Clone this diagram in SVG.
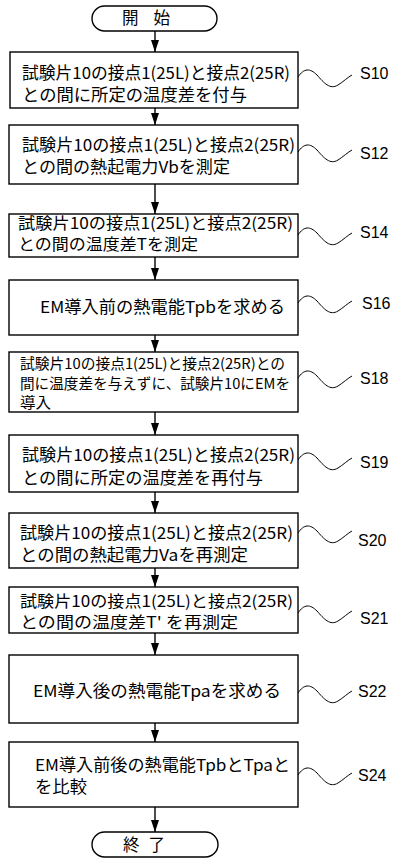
<svg xmlns="http://www.w3.org/2000/svg" width="395" height="858" viewBox="0 0 395 858">
<style>
.box{fill:#fff;stroke:#000;stroke-width:1.4}
.t{font-family:"Noto Sans CJK JP","Noto Sans",sans-serif;font-size:16.5px;fill:#000}
.t15{font-family:"Noto Sans CJK JP","Noto Sans",sans-serif;font-size:15.5px;fill:#000}
.t14{font-family:"Noto Sans CJK JP","Noto Sans",sans-serif;font-size:14.5px;fill:#000}
.lbl{font-family:"Liberation Sans",Arial,sans-serif;font-size:16px;fill:#000}
.sq{fill:none;stroke:#000;stroke-width:1}
.ar{stroke:#000;stroke-width:1.4;fill:none;marker-end:url(#ah)}
</style>
<defs>
<marker id="ah" markerWidth="12" markerHeight="8" refX="12" refY="4" orient="auto" markerUnits="userSpaceOnUse" viewBox="0 0 12 8">
<path d="M0,0 L12,4 L0,8 Z" fill="#000"/>
</marker>
<path id="wave" d="M0,0 C6,-9 12,-9 19,-2 C26,6 32,13 40,8 C45,5 50,0 54,-2"/>
</defs>
<rect width="395" height="858" fill="#fff"/>

<g id="connectors">
<line class="ar" x1="155" y1="31" x2="155" y2="52"/>
<line class="ar" x1="155" y1="108" x2="155" y2="125"/>
<line class="ar" x1="155" y1="184" x2="155" y2="214"/>
<line class="ar" x1="155" y1="257" x2="155" y2="280"/>
<line class="ar" x1="155" y1="335" x2="155" y2="352"/>
<line class="ar" x1="155" y1="412" x2="155" y2="435"/>
<line class="ar" x1="155" y1="492" x2="155" y2="513"/>
<line class="ar" x1="155" y1="568" x2="155" y2="587"/>
<line class="ar" x1="155" y1="633" x2="155" y2="655"/>
<line class="ar" x1="155" y1="723" x2="155" y2="742"/>
<line class="ar" x1="155" y1="807" x2="155" y2="832"/>
</g>

<g id="start">
<rect class="box" x="92" y="6" width="125" height="25" rx="12.5"/>
<text class="t" x="122" y="24" textLength="48" lengthAdjust="spacing">開 始</text>
</g>

<g id="S10">
<rect class="box" x="10" y="52" width="288" height="56"/>
<text class="t" x="22" y="79" textLength="268" lengthAdjust="spacingAndGlyphs">試験片10の接点1(25L)と接点2(25R)</text>
<text class="t" x="22" y="101" textLength="225" lengthAdjust="spacingAndGlyphs">との間に所定の温度差を付与</text>
<use href="#wave" class="sq" x="298" y="77"/>
<text class="lbl" x="360" y="79">S10</text>
</g>

<g id="S12">
<rect class="box" x="9" y="125" width="289" height="59"/>
<text class="t" x="22" y="151" textLength="273" lengthAdjust="spacingAndGlyphs">試験片10の接点1(25L)と接点2(25R)</text>
<text class="t" x="22" y="173" textLength="208" lengthAdjust="spacingAndGlyphs">との間の熱起電力Vbを測定</text>
<use href="#wave" class="sq" x="298" y="152"/>
<text class="lbl" x="360" y="159">S12</text>
</g>

<g id="S14">
<rect class="box" x="9" y="214" width="289" height="43"/>
<text class="t15" x="18" y="229" textLength="275" lengthAdjust="spacingAndGlyphs">試験片10の接点1(25L)と接点2(25R)</text>
<text class="t15" x="18" y="250" textLength="180" lengthAdjust="spacingAndGlyphs">との間の温度差Tを測定</text>
<use href="#wave" class="sq" x="298" y="235"/>
<text class="lbl" x="360" y="238">S14</text>
</g>

<g id="S16">
<rect class="box" x="9" y="280" width="289" height="55"/>
<text class="t" x="40" y="313" textLength="245" lengthAdjust="spacingAndGlyphs">EM導入前の熱電能Tpbを求める</text>
<use href="#wave" class="sq" x="298" y="303"/>
<text class="lbl" x="362" y="309">S16</text>
</g>

<g id="S18">
<rect class="box" x="9" y="352" width="289" height="60"/>
<text class="t14" x="20" y="369" textLength="265" lengthAdjust="spacingAndGlyphs">試験片10の接点1(25L)と接点2(25R)との</text>
<text class="t14" x="20" y="388.5" textLength="270" lengthAdjust="spacingAndGlyphs">間に温度差を与えずに、試験片10にEMを</text>
<text class="t14" x="20" y="408" textLength="31" lengthAdjust="spacingAndGlyphs">導入</text>
<use href="#wave" class="sq" x="298" y="378"/>
<text class="lbl" x="360" y="384">S18</text>
</g>

<g id="S19">
<rect class="box" x="9" y="435" width="289" height="57"/>
<text class="t" x="22" y="461" textLength="273" lengthAdjust="spacingAndGlyphs">試験片10の接点1(25L)と接点2(25R)</text>
<text class="t" x="22" y="484" textLength="241" lengthAdjust="spacingAndGlyphs">との間に所定の温度差を再付与</text>
<use href="#wave" class="sq" x="298" y="460"/>
<text class="lbl" x="360" y="468">S19</text>
</g>

<g id="S20">
<rect class="box" x="9" y="513" width="289" height="55"/>
<text class="t" x="20" y="539" textLength="273" lengthAdjust="spacingAndGlyphs">試験片10の接点1(25L)と接点2(25R)</text>
<text class="t" x="20" y="561" textLength="228" lengthAdjust="spacingAndGlyphs">との間の熱起電力Vaを再測定</text>
<use href="#wave" class="sq" x="298" y="533"/>
<text class="lbl" x="358" y="546">S20</text>
</g>

<g id="S21">
<rect class="box" x="9" y="587" width="289" height="46"/>
<text class="t15" x="20" y="607" textLength="273" lengthAdjust="spacingAndGlyphs">試験片10の接点1(25L)と接点2(25R)</text>
<text class="t15" x="20" y="628" textLength="218" lengthAdjust="spacingAndGlyphs">との間の温度差T' を再測定</text>
<use href="#wave" class="sq" x="298" y="613"/>
<text class="lbl" x="360" y="624">S21</text>
</g>

<g id="S22">
<rect class="box" x="9" y="655" width="289" height="68"/>
<text class="t" x="33" y="697" textLength="248" lengthAdjust="spacingAndGlyphs">EM導入後の熱電能Tpaを求める</text>
<use href="#wave" class="sq" x="298" y="693"/>
<text class="lbl" x="358" y="697">S22</text>
</g>

<g id="S24">
<rect class="box" x="9" y="742" width="289" height="65"/>
<text class="t" x="35" y="771" textLength="255" lengthAdjust="spacingAndGlyphs">EM導入前後の熱電能TpbとTpaと</text>
<text class="t" x="35" y="793" textLength="52" lengthAdjust="spacingAndGlyphs">を比較</text>
<use href="#wave" class="sq" x="298" y="775"/>
<text class="lbl" x="358" y="781">S24</text>
</g>

<g id="end">
<rect class="box" x="92" y="832" width="126" height="25" rx="12.5"/>
<text class="t" x="123" y="851" textLength="42" lengthAdjust="spacing">終 了</text>
</g>
</svg>
